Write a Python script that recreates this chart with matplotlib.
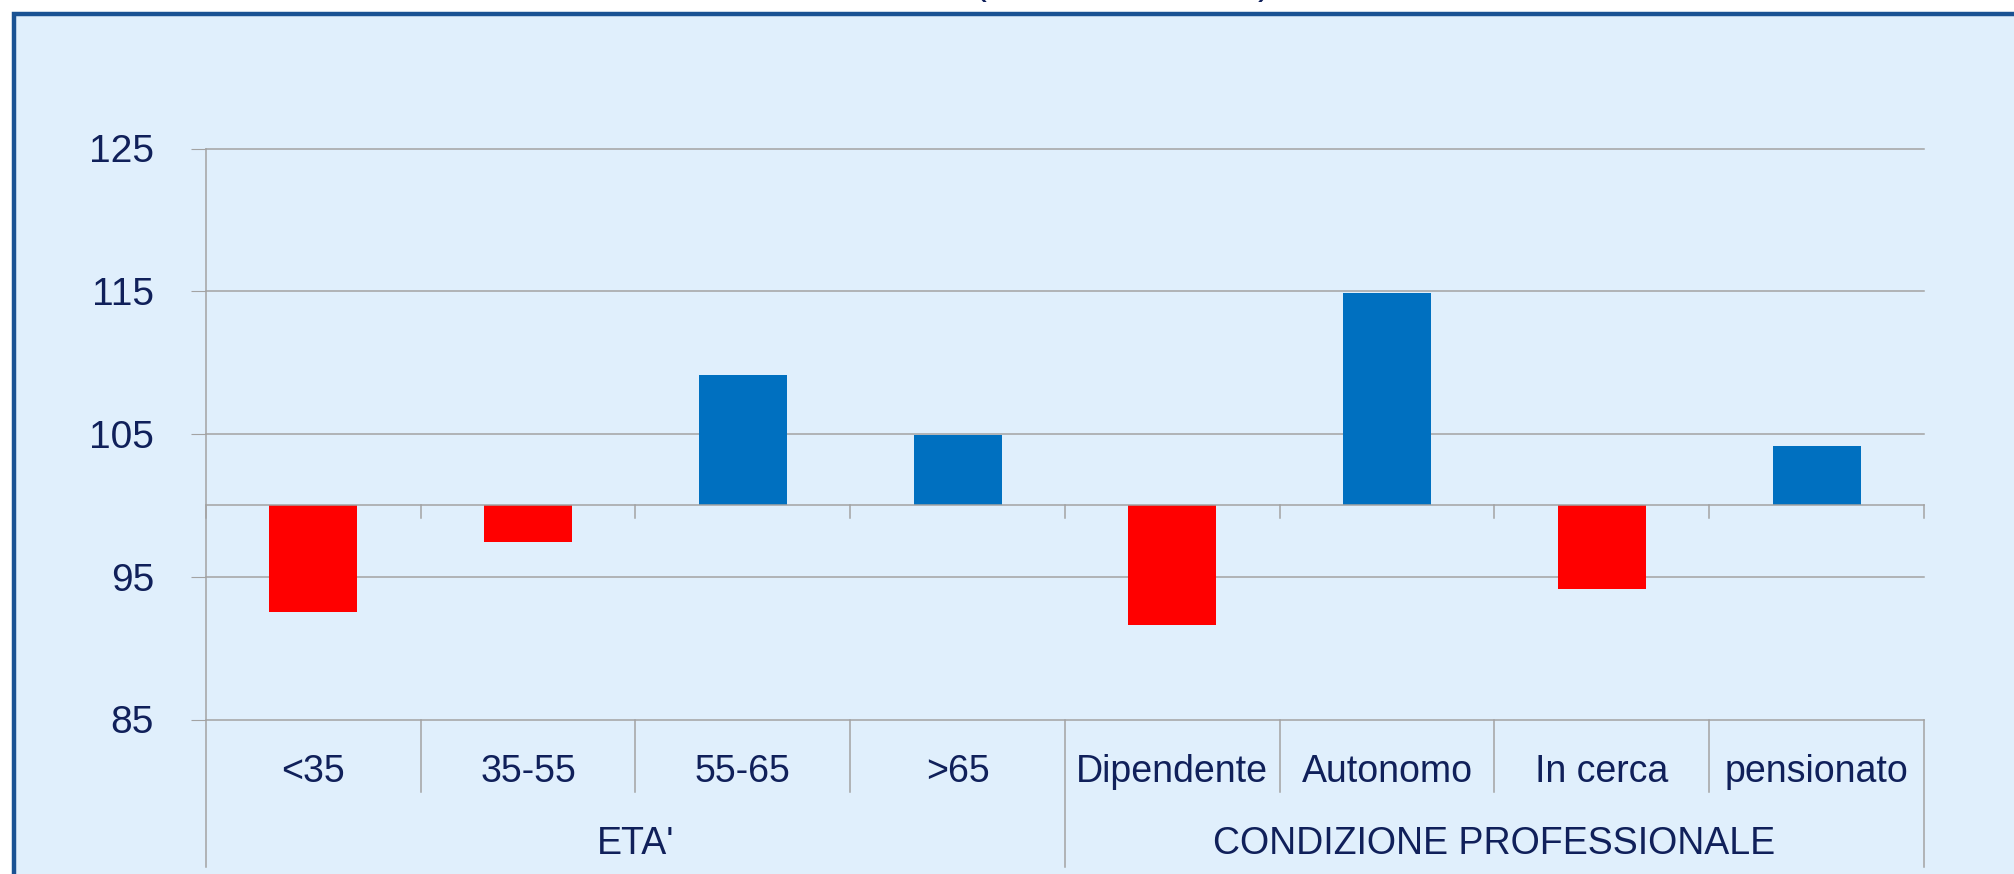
import matplotlib.pyplot as plt
import matplotlib.patches as patches

categorie = ["<35", "35-55", "55-65", ">65",
             "Dipendente", "Autonomo", "In cerca", "pensionato"]
valori = [92.5, 97.45, 109.1, 104.9, 91.6, 114.85, 94.15, 104.15]
gruppi = ["ETA'", "CONDIZIONE PROFESSIONALE"]
n_per_gruppo = [4, 4]
y_ticks = [85, 95, 105, 115, 125]
base = 100

rosso = "#FF0000"
blu = "#0070C0"
testo = "#10205A"
griglia = "#A3A3A3"
font = ["Liberation Sans", "DejaVu Sans"]
plt.rcParams['font.family'] = font

W, H = 2015, 874
fig = plt.figure(figsize=(W / 100, H / 100), dpi=100)
fig.patch.set_facecolor("white")

# cornice blu con sfondo azzurro
sfondo = patches.Rectangle((14 / W, -0.5), 2, 0.5 + 1 - 14 / H,
                           transform=fig.transFigure, facecolor="#E0EFFC",
                           edgecolor="#1A5293", linewidth=3.2, zorder=-10)
fig.patches.append(sfondo)

# frammenti del titolo tagliato
fig.text(980 / W, 1 + 6 / H, "(", fontsize=28, color=testo, ha="center",
         va="baseline")
fig.text(1264 / W, 1 + 6 / H, ")", fontsize=28, color=testo, ha="center",
         va="baseline")

ax = fig.add_axes([206 / W, 1 - 719.5 / H, 1718 / W, 571 / H])
ax.set_facecolor("none")
ax.set_xlim(0, len(categorie))
ax.set_ylim(85, 125)
for s in ax.spines.values():
    s.set_visible(False)

# griglia orizzontale
for y in y_ticks:
    ax.plot([0, len(categorie)], [y, y], color=griglia, lw=1.1, zorder=1,
            clip_on=False)
ax.plot([0, len(categorie)], [base, base], color=griglia, lw=1.1, zorder=3,
        clip_on=False)

x = [i + 0.5 for i in range(len(categorie))]
colori = [blu if v >= base else rosso for v in valori]
ax.bar(x, [v - base for v in valori], bottom=base, width=0.41, color=colori,
       zorder=2)

py = 40 / 571  # unita' dati per pixel

ax.set_yticks(y_ticks)
ax.set_yticklabels([])
ax.tick_params(axis="y", length=10.8, width=0.8, color=griglia)
ax.set_xticks([])
for t in y_ticks:
    ax.text(-0.0303, t - 14 * py, str(t), transform=ax.get_yaxis_transform(),
            fontsize=28, color=testo, ha="right", va="baseline")

# tacche sull'asse a 100
for i in range(len(categorie) + 1):
    ax.plot([i, i], [base, base - 13 * py], color=griglia, lw=1.1,
            clip_on=False)

# asse verticale
ax.plot([0, 0], [125, 85 - 147.5 * py], color=griglia, lw=1.1, clip_on=False)

# tabella delle etichette
confini = [0]
for n in n_per_gruppo:
    confini.append(confini[-1] + n)
for i in range(1, len(categorie) + 1):
    fondo = 85 - (147.5 if i in confini else 72.5) * py
    ax.plot([i, i], [85, fondo], color=griglia, lw=1.1, clip_on=False)

for xi, c in zip(x, categorie):
    ax.text(xi, 85 - 62.5 * py, c, fontsize=27, color=testo, ha="center",
            va="baseline")
for g, a, b in zip(gruppi, confini[:-1], confini[1:]):
    ax.text((a + b) / 2, 85 - 134.5 * py, g, fontsize=27, color=testo,
            ha="center", va="baseline")

plt.savefig("out.png", dpi=100, facecolor=fig.get_facecolor())
